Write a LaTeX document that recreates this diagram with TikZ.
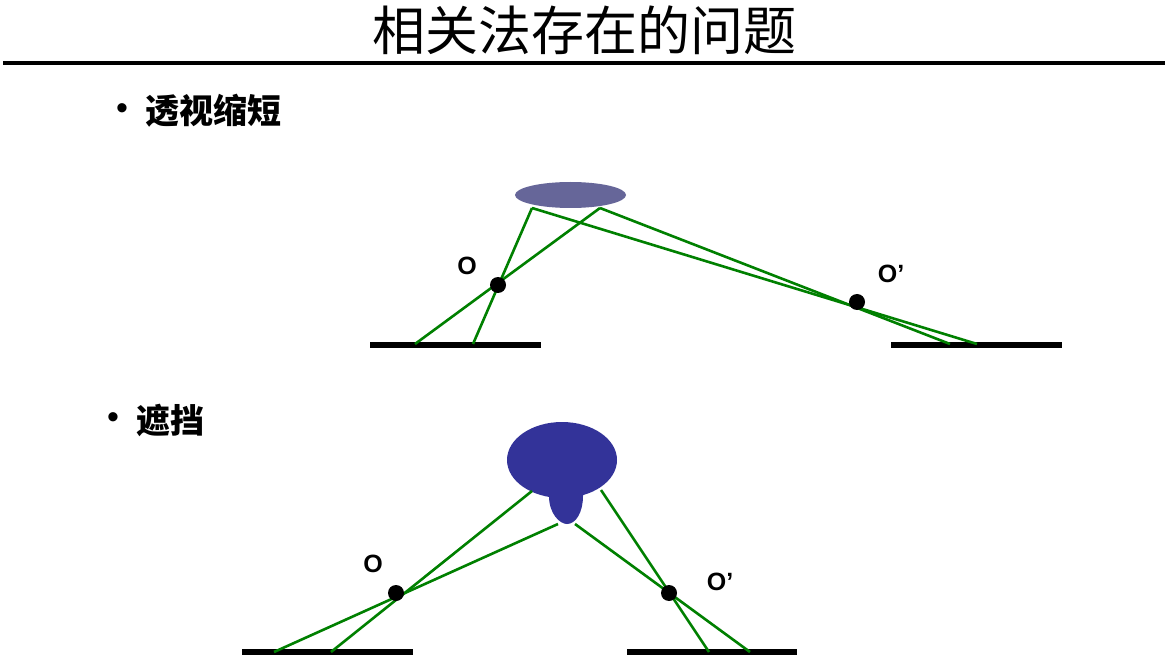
\documentclass[tikz,border=0pt]{standalone}
\usepackage{fontspec}
\setmainfont{Liberation Sans}
\newfontfamily\cjk{Noto Sans CJK SC}
\begin{document}
\begin{tikzpicture}[x=1pt,y=-1pt,
  ray/.style={draw={rgb,255:red,0;green,128;blue,0},line width=2.6pt},
  bar/.style={draw=black,line width=6pt},
  pin/.style={circle,fill=black,inner sep=0pt,minimum size=16pt},
  lbl/.style={font=\fontsize{25}{27}\selectfont\bfseries,inner sep=0pt},
  bul/.style={inner sep=0pt,font=\fontsize{34}{36}\selectfont}]
\useasboundingbox (0,0) rectangle (1167,660);
\fill[white] (0,0) rectangle (1167,660);
% title
\node[inner sep=0pt,font=\cjk\fontsize{53}{56}\selectfont] (title) at (584,30) {相关法存在的问题};
\draw[line width=4pt] (3,63) -- (1165,63);
% bullets
\node[bul] (b1) at (122,112) {•};
\node[inner sep=0pt,anchor=west,font=\cjk\bfseries\fontsize{34}{36}\selectfont] (t1) at (145,111) {透视缩短};
\node[bul] (b2) at (113,421) {•};
\node[inner sep=0pt,anchor=west,font=\cjk\bfseries\fontsize{34}{36}\selectfont] (t2) at (136,420) {遮挡};

% ---------- top diagram ----------
\fill[fill={rgb,255:red,102;green,102;blue,153}] (570.5,195) ellipse [x radius=55.5,y radius=13];
\coordinate (eL) at (532,208);
\coordinate (eR) at (600,208);
\coordinate (p1) at (473,344);
\coordinate (p2) at (415,344);
\coordinate (p3) at (977,344);
\coordinate (p4) at (950,344);
\draw[bar] (370,344.5) -- (541,344.5);
\draw[bar] (891,344.5) -- (1062,344.5);
\draw[ray] (eL) -- (p1);
\draw[ray] (eR) -- (p2);
\draw[ray] (eL) -- (p3);
\draw[ray] (eR) -- (p4);
\node[pin] (O1) at (498,285) {};
\node[pin] (O2) at (857,302) {};
\node[lbl] (l1) at (467,266) {O};
\node[lbl] (l2) at (891,274) {O’};

% ---------- bottom diagram ----------
\fill[fill={rgb,255:red,51;green,51;blue,153}] (562,460) ellipse [x radius=55,y radius=38];
\fill[fill={rgb,255:red,51;green,51;blue,153}] (549,480) -- (549,496) .. controls (549,514) and (560,524) .. (567,524) .. controls (576,524) and (583,512) .. (583,496) -- (583,480) -- cycle;
\coordinate (q1) at (532,491);
\coordinate (q2) at (558,524);
\coordinate (q3) at (601,490);
\coordinate (q4) at (575,524);
\coordinate (r1) at (331,652);
\coordinate (r2) at (274,652);
\coordinate (r3) at (709,652);
\coordinate (r4) at (750,652);
\draw[bar] (242,652) -- (413,652);
\draw[bar] (627,652) -- (797,652);
\draw[ray] (q1) -- (r1);
\draw[ray] (q2) -- (r2);
\draw[ray] (q3) -- (r3);
\draw[ray] (q4) -- (r4);
\node[pin] (O3) at (396,593) {};
\node[pin] (O4) at (669,593) {};
\node[lbl] (l3) at (373,564) {O};
\node[lbl] (l4) at (720,582) {O’};
\end{tikzpicture}
\end{document}
